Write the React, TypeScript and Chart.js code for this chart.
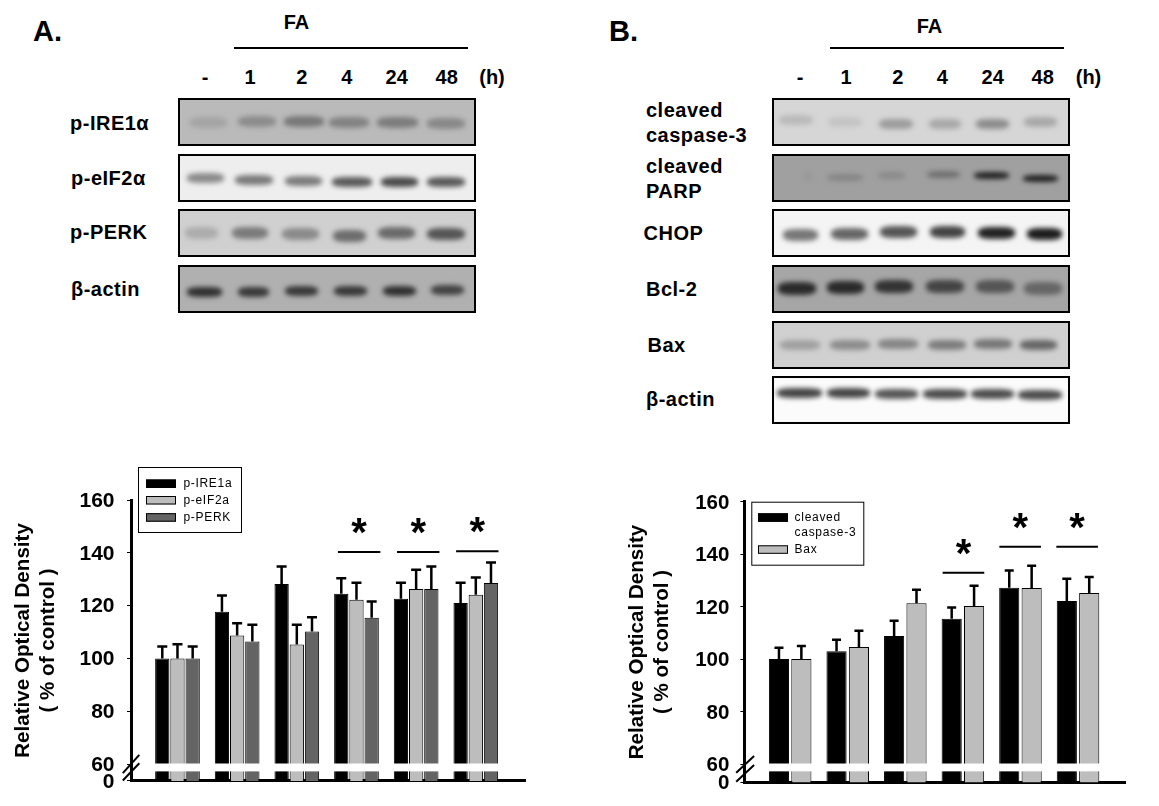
import React, { useEffect, useRef } from "react";
import { Chart, registerables } from "chart.js";

Chart.register(...registerables);

const FONT = '"Liberation Sans", Arial, sans-serif';

// ---- bar chart data ----
const groups = [0, 1, 2, 4, 24, 48];
const ire1 = [100, 117.7, 128.2, 124.5, 122.6, 121];
const eif2 = [100, 108.7, 105.3, 122.2, 126.3, 124.1];
const perk = [100, 106.4, 110.2, 115.4, 126.3, 128.6];
const ire1Err = [104.5, 123.8, 134.8, 130.4, 128.7, 128.7];
const eif2Err = [105.4, 113.3, 112.7, 128.7, 133.6, 130.6];
const perkErr = [104.5, 112.7, 115.6, 121.6, 134.8, 136.3];
const casp3 = [100, 103, 108.8, 115.4, 127.2, 122.1];
const bax = [100, 104.6, 121.3, 120.2, 127.1, 125.2];
const casp3Err = [104.3, 107.4, 114.6, 119.7, 133.8, 130.6];
const baxErr = [105, 110.8, 126.4, 128, 135.6, 131.3];
const yTicks = [60, 80, 100, 120, 140, 160];
const sigA = [[3.045, 140.3], [4.035, 140.3], [5.025, 140.6]];
const sigB = [[3.01, 132.9], [3.995, 142.8], [4.985, 142.8]];

// ---- blot tables: each lane's grey level ----
const timeLabels = ["-", "1", "2", "4", "24", "48"];
const blotsA = [
  { label: ["p-IRE1α"], labelX: 70, labelY: 123, top: 98, bg: "#bababa", h: 11,
    x: [625, 770, 912, 1048, 1192, 1337], y: [367, 364, 364, 367, 368, 370], w: [110, 115, 120, 120, 125, 115],
    g: ["#a4a4a4", "#8c8c8c", "#787878", "#828282", "#7c7c7c", "#888888"] },
  { label: ["p-eIF2α"], labelX: 71, labelY: 178, top: 154, bg: "#eeeeee", h: 10,
    x: [617, 762, 910, 1057, 1198, 1338], y: [535, 540, 544, 545, 545, 547], w: [110, 115, 112, 120, 112, 116],
    g: ["#8a8a8a", "#7a7a7a", "#7c7c7c", "#5a5a5a", "#4a4a4a", "#5a5a5a"] },
  { label: ["p-PERK"], labelX: 70, labelY: 232, top: 209, bg: "#d0d0d0", h: 12,
    x: [605, 750, 902, 1048, 1190, 1338], y: [700, 700, 702, 707, 700, 702], w: [100, 110, 110, 100, 112, 114],
    g: ["#acacac", "#7a7a7a", "#8a8a8a", "#6c6c6c", "#6a6a6a", "#555555"] },
  { label: ["β-actin"], labelX: 71, labelY: 289, top: 265, bg: "#b0b0b0", h: 10,
    x: [613, 760, 905, 1052, 1198, 1343], y: [875, 875, 872, 873, 872, 871], w: [104, 94, 100, 100, 100, 98],
    g: ["#303030", "#383838", "#383838", "#383838", "#303030", "#424242"] },
];
const blotsB = [
  { label: ["cleaved", "caspase-3"], labelX: 646, labelY: 122.5, top: 98, bg: "#d6d6d6", h: 10,
    x: [618, 765, 918, 1065, 1208, 1352], y: [360, 365, 373, 372, 372, 367], w: [100, 100, 100, 95, 100, 100],
    g: ["#bababa", "#c4c4c4", "#9c9c9c", "#a8a8a8", "#8c8c8c", "#a8a8a8"] },
  { label: ["cleaved", "PARP"], labelX: 646, labelY: 178, top: 154, bg: "#a0a0a0", h: 7,
    x: [655, 765, 905, 1060, 1205, 1350], y: [530, 532, 525, 524, 526, 534], w: [30, 110, 80, 100, 105, 105],
    g: ["#989898", "#858585", "#8a8a8a", "#707070", "#202020", "#202020"] },
  { label: ["CHOP"], labelX: 643.5, labelY: 232.5, top: 209, bg: "#f4f4f4", h: 12,
    x: [632, 778, 925, 1072, 1220, 1363], y: [704, 702, 697, 697, 698, 702], w: [105, 110, 110, 105, 110, 105],
    g: ["#777777", "#666666", "#555555", "#444444", "#222222", "#1c1c1c"] },
  { label: ["Bcl-2"], labelX: 646, labelY: 288.5, top: 265, bg: "#a6a6a6", h: 13,
    x: [622, 767, 913, 1065, 1215, 1358], y: [865, 863, 860, 860, 860, 866], w: [115, 110, 115, 115, 115, 115],
    g: ["#2a2a2a", "#2a2a2a", "#333333", "#444444", "#555555", "#666666"] },
  { label: ["Bax"], labelX: 647.5, labelY: 344.5, top: 320.5, bg: "#d0d0d0", h: 10,
    x: [630, 780, 925, 1070, 1210, 1345], y: [1035, 1035, 1033, 1035, 1032, 1035], w: [120, 120, 120, 115, 115, 110],
    g: ["#a0a0a0", "#8c8c8c", "#858585", "#7c7c7c", "#777777", "#666666"] },
  { label: ["β-actin"], labelX: 646, labelY: 399, top: 375.5, bg: "#fbfbfb", h: 10,
    x: [628, 775, 920, 1065, 1207, 1350], y: [1180, 1180, 1182, 1182, 1183, 1185], w: [135, 130, 130, 130, 130, 130],
    g: ["#444444", "#444444", "#555555", "#4c4c4c", "#4c4c4c", "#4c4c4c"] },
];

// ---- shared chart plugin: error bars, axis break, significance marks, legend ----
const figurePlugin = {
  id: "figure",
  afterDatasetsDraw(chart: any) {
    const o = chart.options.plugins.figure;
    const { ctx, scales, chartArea } = chart;
    const x = scales.x, y = scales.y;
    ctx.save();
    // error bars
    ctx.strokeStyle = "#000";
    ctx.lineWidth = 2.5;
    chart.data.datasets.forEach((ds: any, i: number) => {
      const meta = chart.getDatasetMeta(i);
      meta.data.forEach((bar: any, j: number) => {
        const top = y.getPixelForValue(ds.errTop[j]);
        ctx.beginPath();
        ctx.moveTo(bar.x, bar.y);
        ctx.lineTo(bar.x, top);
        ctx.moveTo(bar.x - o.cap, top);
        ctx.lineTo(bar.x + o.cap, top);
        ctx.stroke();
      });
    });
    // white band where the axis is broken
    const gapTop = y.getPixelForValue(60) - 0.5;
    const gapBottom = y.getPixelForValue(o.gapEnd);
    ctx.fillStyle = "#fff";
    ctx.fillRect(chartArea.left + 3, gapTop, chartArea.right - chartArea.left - 3, gapBottom - gapTop);
    // slashes on the axis
    ctx.lineWidth = 2;
    const base = y.getPixelForValue(y.min);
    o.slashes.forEach((s: number[]) => {
      ctx.beginPath();
      ctx.moveTo(chartArea.left + s[0], base + s[1]);
      ctx.lineTo(chartArea.left + s[2], base + s[3]);
      ctx.stroke();
    });
    // significance marks
    ctx.fillStyle = "#000";
    ctx.textAlign = "center";
    ctx.textBaseline = "middle";
    ctx.font = `bold 40px ${FONT}`;
    o.sig.forEach((s: number[]) => {
      const cx = x.getPixelForValue(s[0]);
      const py = y.getPixelForValue(s[1]);
      ctx.lineWidth = 2;
      ctx.beginPath();
      ctx.moveTo(cx - o.sigHalf, py);
      ctx.lineTo(cx + o.sigHalf, py);
      ctx.stroke();
      ctx.fillText("*", cx, py - o.starUp);
    });
    // legend
    const L = o.legend;
    ctx.fillStyle = "#fff";
    ctx.fillRect(L.x, L.y, L.w, L.h);
    ctx.strokeStyle = "#000";
    ctx.lineWidth = 1;
    ctx.strokeRect(L.x + 0.5, L.y + 0.5, L.w - 1, L.h - 1);
    ctx.font = `${L.font}px ${FONT}`;
    (ctx as any).letterSpacing = L.spacing;
    ctx.textAlign = "left";
    chart.data.datasets.forEach((ds: any, i: number) => {
      const sy = L.rows[i];
      ctx.fillStyle = ds.backgroundColor;
      ctx.fillRect(L.swatchX, sy, 30, 8.5);
      ctx.strokeStyle = "#000";
      ctx.strokeRect(L.swatchX + 0.5, sy + 0.5, 29, 7.5);
      ctx.fillStyle = "#000";
      String(ds.label).split("\n").forEach((line, k) => {
        ctx.fillText(line, L.textX, sy + 4.5 + k * L.lineStep);
      });
    });
    ctx.restore();
  },
};

function makeChart(canvas: HTMLCanvasElement, cfg: any) {
  const barDatasets = cfg.series.map((s: any) => ({
    label: s.label,
    data: groups.map((_, i) => ({ x: i, y: s.values[i] })),
    errTop: s.err,
    backgroundColor: s.color,
    borderColor: "#000",
    borderWidth: 1,
    categoryPercentage: cfg.catPct,
    barPercentage: cfg.barPct,
  }));
  return new Chart(canvas, {
    type: "bar",
    data: { datasets: barDatasets },
    plugins: [figurePlugin],
    options: {
      animation: false,
      responsive: false,
      layout: { padding: cfg.padding },
      plugins: {
        legend: { display: false },
        tooltip: { enabled: false },
        figure: cfg.figure,
      } as any,
      scales: {
        x: {
          type: "linear",
          offset: false,
          min: cfg.xMin,
          max: cfg.xMax,
          afterBuildTicks: (s: any) => {
            s.ticks = groups.map((_, i) => ({ value: i }));
          },
          ticks: { display: false },
          grid: { display: false, offset: false },
          border: { display: true, color: "#000", width: 3 },
          afterFit: (s: any) => { s.height = 0; },
        },
        y: {
          min: cfg.yBase,
          max: 160,
          afterBuildTicks: (s: any) => {
            s.ticks = [cfg.yBase, ...yTicks].map((value) => ({ value }));
          },
          afterFit: (s: any) => { s.width = cfg.axisWidth; },
          ticks: {
            color: "#000",
            padding: cfg.tickPad,
            autoSkip: false,
            labelOffset: cfg.tickShift,
            font: { family: FONT, weight: "bold", size: cfg.tickSize },
            callback: (v: any) => (v === cfg.yBase ? "0" : String(v)),
          },
          grid: { display: true, drawOnChartArea: false, drawTicks: true, tickLength: 4, color: "#000", tickWidth: 1 },
          border: { display: true, color: "#000", width: 3 },
          title: {
            display: true,
            text: ["Relative Optical Density", "( % of control )"],
            color: "#000",
            padding: { top: cfg.titlePad, bottom: 0 },
            font: { family: FONT, weight: "bold", size: 20.6, lineHeight: cfg.titleLine },
          },
        },
      },
    },
  } as any);
}

function Txt(p: { x: number; y: number; size?: number; center?: boolean; spacing?: number; children: any }) {
  return (
    <span
      style={{
        position: "absolute",
        left: p.x,
        top: p.y,
        transform: `translate(${p.center ? "-50%" : "0"},-50%)`,
        font: `bold ${p.size ?? 20}px ${FONT}`,
        letterSpacing: p.spacing ?? 0,
        color: "#000",
        whiteSpace: "nowrap",
      }}
    >
      {p.children}
    </span>
  );
}

function Blot({ row, left, width, offset }: { row: any; left: number; width: number; offset: number }) {
  return (
    <>
      <div
        style={{
          position: "absolute",
          left,
          top: row.top,
          width,
          height: 48,
          boxSizing: "border-box",
          border: "2px solid #000",
          background: row.bg,
          overflow: "hidden",
        }}
      >
        {row.x.map((zx: number, i: number) => {
          const w = row.w[i] / 3;
          return (
            <div
              key={i}
              style={{
                position: "absolute",
                left: offset + zx / 3 - left - w / 2 - 2,
                top: row.y[i] / 3 - row.top - row.h / 2 - 2,
                width: w,
                height: row.h,
                borderRadius: "35%",
                background: row.g[i],
                filter: "blur(2.4px)",
              }}
            />
          );
        })}
      </div>
      {row.label.map((t: string, k: number) => (
        <Txt
          key={t}
          x={row.labelX}
          y={row.label.length > 1 ? row.labelY + (k === 0 ? -12.5 : 12.5) : row.labelY}
          spacing={0.5}
        >
          {t}
        </Txt>
      ))}
    </>
  );
}

export default function App() {
  const a = useRef<HTMLCanvasElement>(null);
  const b = useRef<HTMLCanvasElement>(null);
  useEffect(() => {
    const ca = makeChart(a.current!, {
      series: [
        { label: "p-IRE1a", values: ire1, err: ire1Err, color: "#000000" },
        { label: "p-eIF2a", values: eif2, err: eif2Err, color: "#bdbdbd" },
        { label: "p-PERK", values: perk, err: perkErr, color: "#646464" },
      ],
      catPct: 0.764,
      barPct: 0.94,
      padding: { left: 0, top: 50, right: 44.2, bottom: 23.3 },
      xMin: -0.779,
      xMax: 5.838,
      yBase: 53.6,
      axisWidth: 131,
      tickPad: 12.5,
      tickSize: 21,
      tickShift: 1,
      titlePad: 10.8,
      titleLine: 1.21,
      figure: {
        cap: 5,
        gapEnd: 57.2,
        slashes: [[-8.2, -7.7, 8.3, -26], [-8.2, -0.4, 8.3, -17.7]],
        sig: sigA,
        sigHalf: 21.2,
        starUp: 17,
        legend: { x: 138, y: 17, w: 104, h: 66, swatchX: 146, rows: [29.5, 46, 63.2], textX: 183.4, font: 12, spacing: "0.7px", lineStep: 0 },
      },
    });
    const cb = makeChart(b.current!, {
      series: [
        { label: "cleaved\ncaspase-3", values: casp3, err: casp3Err, color: "#000000" },
        { label: "Bax", values: bax, err: baxErr, color: "#bdbdbd" },
      ],
      catPct: 0.778,
      barPct: 0.9,
      padding: { left: 0, top: 31.7, right: 33.2, bottom: 23.7 },
      xMin: -0.795,
      xMax: 5.83,
      yBase: 53.03,
      axisWidth: 164.4,
      tickPad: 11,
      tickSize: 20.5,
      tickShift: 1.5,
      titlePad: 44.5,
      titleLine: 1.21,
      figure: {
        cap: 4.5,
        gapEnd: 57.2,
        slashes: [[-8.2, -9.6, 9.7, -26.3], [-8.2, -0.6, 9.7, -17.3]],
        sig: sigB,
        sigHalf: 20.8,
        starUp: 17,
        legend: { x: 171.3, y: 31.7, w: 113, h: 64, swatchX: 178, rows: [43.3, 75.3], textX: 214.6, font: 12, spacing: "0.7px", lineStep: 15 },
      },
    });
    return () => {
      ca.destroy();
      cb.destroy();
    };
  }, []);

  const lanesA = [205, 250, 301.7, 346.7, 396.7, 446.7];
  const lanesB = [800, 846, 897.7, 942.3, 992.7, 1042.7];

  return (
    <div style={{ position: "absolute", left: 0, top: 0, width: 1159, height: 806, overflow: "hidden", background: "#fff" }}>
      <Txt x={33} y={31} size={29}>A.</Txt>
      <Txt x={609} y={31} size={29}>B.</Txt>
      <Txt x={296.5} y={21.5} center>FA</Txt>
      <Txt x={929.5} y={26} center>FA</Txt>
      <div style={{ position: "absolute", left: 234, top: 47, width: 234, height: 2, background: "#000" }} />
      <div style={{ position: "absolute", left: 830, top: 47, width: 234, height: 2, background: "#000" }} />
      {timeLabels.map((t, i) => <Txt key={t} x={lanesA[i]} y={77} center>{t}</Txt>)}
      {timeLabels.map((t, i) => <Txt key={t} x={lanesB[i]} y={77} center>{t}</Txt>)}
      <Txt x={492} y={77} center>(h)</Txt>
      <Txt x={1088.5} y={77} center>(h)</Txt>
      {blotsA.map((row) => <Blot key={row.top} row={row} left={177.5} width={298.5} offset={0} />)}
      {blotsB.map((row) => <Blot key={row.top} row={row} left={771.5} width={298} offset={590} />)}
      <canvas ref={a} width={570} height={356} style={{ position: "absolute", left: 0, top: 450 }} />
      <canvas ref={b} width={579} height={336} style={{ position: "absolute", left: 580, top: 470 }} />
    </div>
  );
}
